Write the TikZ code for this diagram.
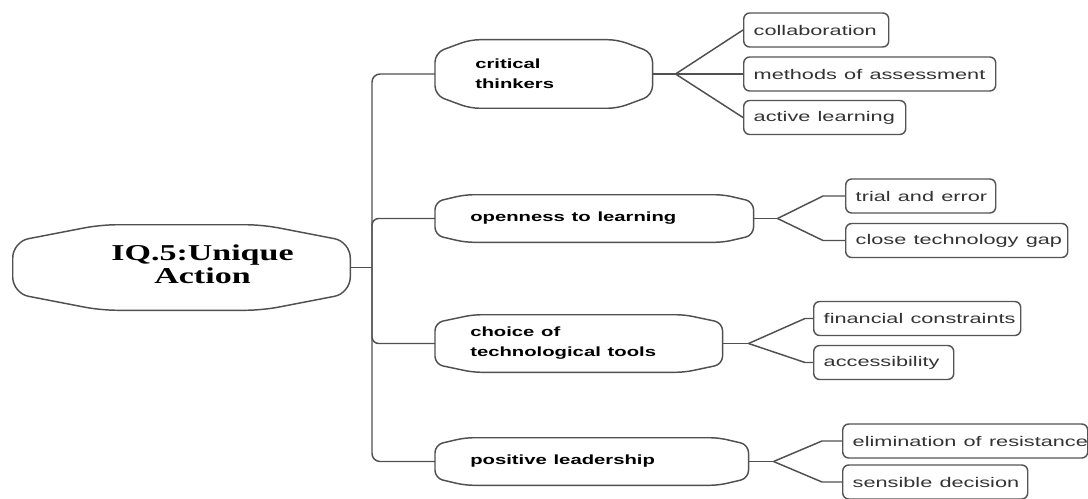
\documentclass[tikz,border=0pt]{standalone}
\usepackage{fontspec}
\usepackage{graphicx}
\setmainfont{Liberation Sans}
\newfontfamily\rootserif{Liberation Serif}
\usetikzlibrary{calc}
\definecolor{linegray}{HTML}{505050}
\definecolor{boxgray}{HTML}{555555}
\definecolor{textgray}{HTML}{333333}
\newcommand{\sx}[1]{\scalebox{1.55}[1]{#1}}
\newcommand{\bx}[1]{\scalebox{1.52}[1]{#1}}
\newcommand{\rx}[1]{\scalebox{1.5}[1]{#1}}
\newcommand{\lvlshape}[4]{%
  \draw[shapeline, rounded corners=#4] (#1.north) -- ($(#1.north east)+(-#3,0)$) -- ($(#1.north east)+(0,#2)$) -- ($(#1.south east)+(0,-#2)$) -- ($(#1.south east)+(-#3,0)$) -- ($(#1.south west)+(#3,0)$) -- ($(#1.south west)+(0,-#2)$) -- ($(#1.north west)+(0,#2)$) -- ($(#1.north west)+(#3,0)$) -- cycle;}
\tikzset{
  link/.style={draw=linegray, line width=1.1pt},
  shapeline/.style={draw=linegray, line width=1.1pt},
  lvl/.style={inner ysep=0pt, inner xsep=26.25pt, align=left, anchor=west, text=black, font=\fontsize{10}{15}\selectfont\bfseries},
  cbox/.style={draw=boxgray, line width=1.1pt, rounded corners=4.5pt, fill=white, inner xsep=7.5pt, inner ysep=0pt, minimum height=25.5pt, align=left, anchor=west, text=textgray, font=\fontsize{10.5}{12}\selectfont},
}
\begin{document}
\begin{tikzpicture}[x=0.75pt,y=-0.75pt]
\fill[white] (0,0) rectangle (1088,499);
\useasboundingbox (0,0) rectangle (1088,499);

% root
\node[inner sep=0pt, minimum width=252.75pt, minimum height=63.75pt, text=black] (root) at (181.5,267.5)
  {\rootserif\bfseries\fontsize{17}{17.5}\selectfont\hspace*{31.5pt}\begin{tabular}{@{}c@{}}\rx{IQ.5:Unique}\\\rx{Action}\end{tabular}};
\lvlshape{root}{17}{88}{12pt}

% level 1
\node[lvl, inner xsep=30pt, text width=102.75pt, minimum height=51pt] (l1) at (435,74) {\bx{critical}\\\bx{thinkers}};
\node[lvl, text width=186pt, minimum height=35.25pt] (l2) at (435,218.5) {\bx{openness to learning}};
\node[lvl, text width=162.75pt, minimum height=42.75pt] (l3) at (435,343.5) {\bx{choice of}\\\bx{technological tools}};
\node[lvl, text width=182.25pt, minimum height=35.25pt] (l4) at (435,461.5) {\bx{positive leadership}};
\lvlshape{l1}{13}{35}{7pt}
\lvlshape{l2}{7}{30}{6pt}
\lvlshape{l3}{8}{38}{6pt}
\lvlshape{l4}{7}{30}{6pt}

% children
\node[cbox, text width=93.75pt] (c11) at (743,30) {\sx{collaboration}};
\node[cbox, text width=174pt] (c12) at (743,74) {\sx{methods of assessment}};
\node[cbox, text width=106.5pt] (c13) at (743,117.5) {\sx{active learning}};
\node[cbox, text width=97.5pt] (c21) at (845,196) {\sx{trial and error}};
\node[cbox, text width=151.5pt] (c22) at (845,240.5) {\sx{close technology gap}};
\node[cbox, text width=140.25pt] (c31) at (813,318.5) {\sx{financial constraints}};
\node[cbox, text width=90pt] (c32) at (813,362.5) {\sx{accessibility}};
\node[cbox, text width=168.75pt] (c41) at (842,441) {\sx{elimination of resistance}};
\node[cbox, text width=123.75pt] (c42) at (842,482) {\sx{sensible decision}};

% trunk
\coordinate (tk) at (372,267.5);
\draw[link] (root.east) -- (tk);
\draw[link, rounded corners=6pt] (l1.west) -| (tk) |- (l4.west);
\draw[link, rounded corners=5pt] (tk) |- (l2.west);
\draw[link, rounded corners=5pt] (tk) |- (l3.west);

% forks
\coordinate (f1) at ($(l1.east)+(23,0)$);
\coordinate (f2) at ($(l2.east)+(24,0)$);
\coordinate (f3) at ($(l3.east)+(26,0)$);
\coordinate (f4) at ($(l4.east)+(25,0)$);
\draw[link] (l1.east) -- (f1);
\draw[link] (f1) -- (c11.west);
\draw[link] (f1) -- (c12.west);
\draw[link] (f1) -- (c13.west);
\draw[link] (l2.east) -- (f2);
\draw[link] (f2) -- ($(c21.west)+(-22,0)$) -- (c21.west);
\draw[link] (f2) -- ($(c22.west)+(-22,0)$) -- (c22.west);
\draw[link] (l3.east) -- (f3);
\draw[link] (f3) -- ($(c31.west)+(-8,0)$) -- (c31.west);
\draw[link] (f3) -- ($(c32.west)+(-8,0)$) -- (c32.west);
\draw[link] (l4.east) -- (f4);
\draw[link] (f4) -- ($(c41.west)+(-20,0)$) -- (c41.west);
\draw[link] (f4) -- ($(c42.west)+(-20,0)$) -- (c42.west);
\end{tikzpicture}
\end{document}
